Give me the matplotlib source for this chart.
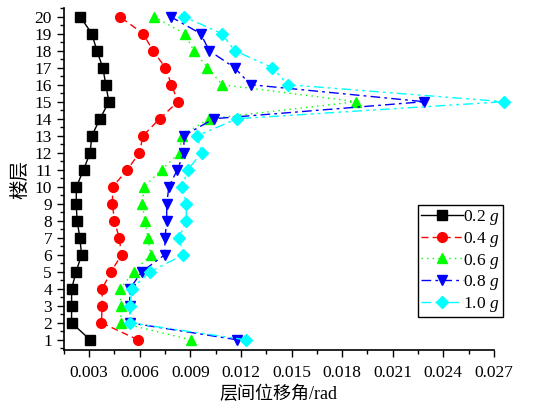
import matplotlib
matplotlib.use("Agg")
import matplotlib.pyplot as plt
from matplotlib.ticker import MultipleLocator

plt.rcParams['font.family'] = ['Liberation Serif', 'Noto Sans CJK SC']
plt.rcParams['mathtext.fontset'] = 'custom'
plt.rcParams['mathtext.it'] = 'Liberation Serif:italic'
plt.rcParams['mathtext.rm'] = 'Liberation Serif'

# floors 1..20
floors = list(range(1, 21))

# story drift angle (rad), floor 1 -> 20
drift_02 = [0.00306, 0.00196, 0.00196, 0.00196, 0.00223, 0.00255, 0.00245, 0.00229, 0.00223, 0.00225,
            0.00267, 0.00306, 0.00316, 0.00365, 0.00417, 0.00399, 0.00381, 0.00346, 0.00316, 0.00247]
drift_04 = [0.00590, 0.00373, 0.00377, 0.00377, 0.00430, 0.00492, 0.00478, 0.00450, 0.00438, 0.00440,
            0.00527, 0.00598, 0.00620, 0.00718, 0.00827, 0.00788, 0.00752, 0.00679, 0.00620, 0.00482]
drift_06 = [0.00902, 0.00488, 0.00488, 0.00484, 0.00566, 0.00665, 0.00649, 0.00630, 0.00616, 0.00626,
            0.00730, 0.00837, 0.00849, 0.01010, 0.01884, 0.01089, 0.01001, 0.00921, 0.00866, 0.00685]
drift_08 = [0.01178, 0.00541, 0.00541, 0.00541, 0.00612, 0.00748, 0.00750, 0.00760, 0.00760, 0.00773,
            0.00823, 0.00862, 0.00862, 0.01040, 0.02286, 0.01257, 0.01162, 0.01012, 0.00961, 0.00783]
drift_10 = [0.01229, 0.00543, 0.00543, 0.00553, 0.00661, 0.00859, 0.00833, 0.00876, 0.00876, 0.00853,
            0.00885, 0.00967, 0.00941, 0.01178, 0.02760, 0.01478, 0.01387, 0.01162, 0.01087, 0.00862]

series = [
    (drift_02, '0.2 $g$', 'black', '-', 's'),
    (drift_04, '0.4 $g$', 'red', (0, (5, 3)), 'o'),
    (drift_06, '0.6 $g$', '#00ff00', (0, (1, 3)), '^'),
    (drift_08, '0.8 $g$', 'blue', (0, (7, 3, 2, 3)), 'v'),
    (drift_10, '1.0 $g$', 'cyan', (0, (7, 3, 2, 3, 2, 3)), 'D'),
]

fig = plt.figure(figsize=(5.55, 4.07), dpi=100)
ax = fig.add_axes([0.115, 0.140, 0.775, 0.840])

for vals, lab, col, ls, mk in series:
    ms = 6 if mk == 'D' else 7
    ax.plot(vals, floors, color=col, linestyle=ls, linewidth=1.0, marker=mk,
            markersize=ms, markeredgecolor=col, markerfacecolor=col,
            label=lab, clip_on=False, zorder=3)

ax.set_xlim(0.0015, 0.027)
ax.set_ylim(0.4, 20.5)
ax.xaxis.set_minor_locator(MultipleLocator(0.0015))
ax.yaxis.set_major_locator(MultipleLocator(1))
ax.yaxis.set_minor_locator(MultipleLocator(0.5))
ax.set_xticks([0.003 * i for i in range(1, 10)])
ax.set_xticklabels(['%.3f' % (0.003 * i) for i in range(1, 10)])

ax.spines['top'].set_visible(False)
ax.spines['right'].set_visible(False)
ax.spines['left'].set_linewidth(1.2)
ax.spines['bottom'].set_linewidth(1.2)
ax.tick_params(which='major', direction='out', length=5, width=1, labelsize=12.5)
ax.tick_params(axis='x', which='major', pad=6)
ax.tick_params(which='minor', direction='out', length=3, width=1)

ax.set_xlabel('层间位移角/rad', fontsize=13, labelpad=3)
ax.set_ylabel('楼层', fontsize=14, labelpad=4)

leg = ax.legend(loc='lower right', bbox_to_anchor=(1.02, 0.096), fontsize=12.5,
                handlelength=2.4, handletextpad=0.0, borderpad=0.2, labelspacing=0.15,
                borderaxespad=0, fancybox=False, framealpha=1, edgecolor='black')
leg.get_frame().set_linewidth(1.0)

fig.savefig('out.png', dpi=100)
